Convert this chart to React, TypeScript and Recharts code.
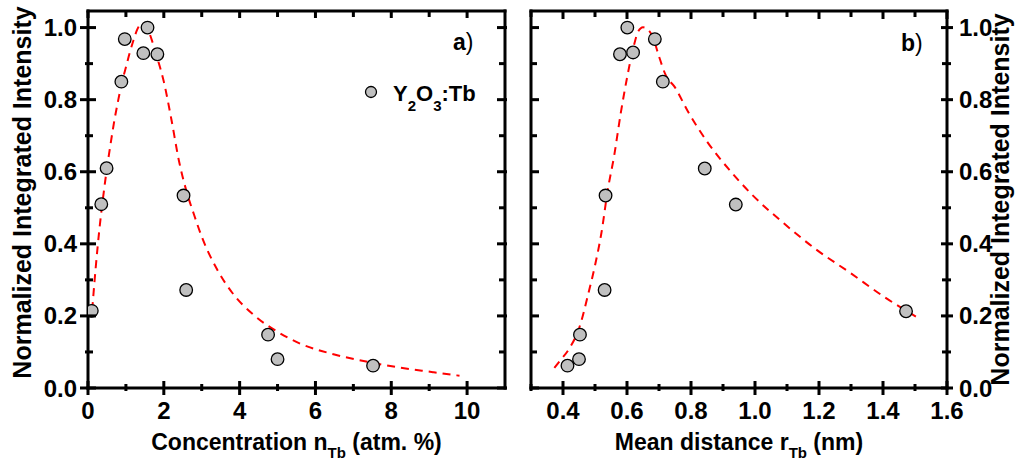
import React from 'react';
import { ComposedChart, XAxis, YAxis, Scatter, Line, Customized } from 'recharts';

// ---------- Panel a: intensity vs concentration ----------
const concentration = [0.1, 0.35, 0.49, 0.88, 0.97, 1.46, 1.57, 1.83, 2.52, 2.59, 4.75, 5.0, 7.52];
const intensityA = [0.214, 0.51, 0.61, 0.85, 0.968, 0.929, 1.0, 0.926, 0.534, 0.272, 0.148, 0.08, 0.062];

const fitConcentration = [0.11, 0.2, 0.3, 0.4, 0.5, 0.6, 0.7, 0.8, 0.9, 1.0, 1.1, 1.2, 1.3, 1.42, 1.5, 1.6, 1.7, 1.8, 1.9, 2.0, 2.2, 2.4, 2.6, 2.8, 3.0, 3.4, 3.8, 4.4, 5.0, 5.6, 6.5, 7.4, 8.2, 9.1, 9.8];
const fitIntensityA = [0.216, 0.33, 0.44, 0.53, 0.61, 0.68, 0.745, 0.8, 0.85, 0.89, 0.93, 0.965, 0.995, 1.012, 1.008, 0.99, 0.96, 0.925, 0.89, 0.85, 0.745, 0.63, 0.545, 0.48, 0.42, 0.33, 0.265, 0.2, 0.156, 0.123, 0.093, 0.072, 0.057, 0.044, 0.034];

// ---------- Panel b: intensity vs mean distance ----------
const distance = [0.601, 0.578, 0.619, 0.687, 0.712, 0.843, 0.94, 0.533, 0.53, 0.453, 0.45, 0.414, 1.472];
const intensityB = [1.0, 0.926, 0.931, 0.968, 0.85, 0.609, 0.509, 0.534, 0.272, 0.148, 0.08, 0.062, 0.213];

const fitDistance = [0.373, 0.39, 0.42, 0.45, 0.48, 0.5, 0.52, 0.54, 0.56, 0.58, 0.6, 0.62, 0.635, 0.65, 0.665, 0.68, 0.7, 0.72, 0.75, 0.79, 0.85, 0.92, 0.99, 1.09, 1.19, 1.3, 1.4, 1.505];
const fitIntensityB = [0.056, 0.075, 0.11, 0.165, 0.265, 0.34, 0.43, 0.55, 0.645, 0.76, 0.86, 0.945, 0.989, 1.001, 0.995, 0.975, 0.92, 0.87, 0.834, 0.768, 0.684, 0.605, 0.537, 0.457, 0.385, 0.318, 0.255, 0.197];

// ---------- ticks ----------
const xMajorA = [0, 2, 4, 6, 8, 10];
const xMinorA = [1, 3, 5, 7, 9];
const xMajorB = [0.4, 0.6, 0.8, 1.0, 1.2, 1.4, 1.6];
const xMinorB = [0.3, 0.5, 0.7, 0.9, 1.1, 1.3, 1.5];
const yMajor = [0, 0.2, 0.4, 0.6, 0.8, 1.0];
const yMinor = [0.1, 0.3, 0.5, 0.7, 0.9];

const legendLabel = ['Y', '2', 'O', '3', ':Tb'];
const yTitle = 'Normalized Integrated Intensity';

const FONT = "'Liberation Sans', Arial, sans-serif";
const TICK_FS = 24;
const TW = 3;

const pointsA = concentration.map((x, i) => ({ x, y: intensityA[i] }));
const fitA = fitConcentration.map((x, i) => ({ x, y: fitIntensityA[i] }));
const pointsB = distance.map((x, i) => ({ x, y: intensityB[i] }));
const fitB = fitDistance.map((x, i) => ({ x, y: fitIntensityB[i] }));

const allTicks = (a: number[], b: number[]) => [...a, ...b].sort((p, q) => p - q);
const isMajor = (v: number, majors: number[]) => majors.some((m) => Math.abs(m - v) < 1e-6);

// side: 0 bottom, 1 top, 2 left, 3 right
const mkTick = (side: number, majors: number[], inMaj: number, outMaj: number, inMin: number, outMin: number, labels: boolean, fmt: (v: number) => string) =>
  (props: any) => {
    const x = Number(props.x);
    const y = Number(props.y);
    const v = Number(props.payload.value);
    const maj = isMajor(v, majors);
    const a = maj ? inMaj : inMin;
    const b = maj ? outMaj : outMin;
    const len = a + b;
    let rx = x - TW / 2;
    let ry = y - TW / 2;
    let rw = TW;
    let rh = TW;
    let tx = x;
    let ty = y;
    let anchor: 'middle' | 'end' | 'start' = 'middle';
    if (side === 0) {
      ry = y - a; rh = len; ty = y + 31;
    } else if (side === 1) {
      ry = y - b; rh = len;
    } else if (side === 2) {
      rx = x - b; rw = len; tx = x - 11; ty = y + 8.5; anchor = 'end';
    } else {
      rx = x - a; rw = len; tx = x + 12; ty = y + 8.5; anchor = 'start';
    }
    return (
      <g>
        <rect x={rx} y={ry} width={rw} height={rh} fill="#000" />
        {maj && labels ? (
          <text x={tx} y={ty} textAnchor={anchor} fontSize={TICK_FS} fontWeight="bold" fontFamily={FONT} fill="#000">
            {fmt(v)}
          </text>
        ) : null}
      </g>
    );
  };

const axisLine = { stroke: '#000', strokeWidth: 3, strokeLinecap: 'square' as const };

const Dot = (props: any) => (
  <circle cx={props.cx} cy={props.cy} r={6.3} fill="#c0c0c0" stroke="#000" strokeWidth={1.3} />
);

const XTitle = (main: string, sub: string, tail: string) => (props: any) => {
  const vb = props.viewBox;
  return (
    <text x={vb.x + vb.width / 2} y={vb.y + 62} textAnchor="middle" fontSize={23} fontWeight="bold" fontFamily={FONT} fill="#000">
      <tspan>{main}</tspan>
      <tspan fontSize={15} dy={8}>{sub}</tspan>
      <tspan dy={-8}>{tail}</tspan>
    </text>
  );
};

const YTitle = (xOff: (vb: any) => number, yShift: number) => (props: any) => {
  const vb = props.viewBox;
  const cx = xOff(vb);
  const cy = vb.y + vb.height / 2 + yShift;
  return (
    <text x={cx} y={cy} transform={`rotate(-90, ${cx}, ${cy})`} textAnchor="middle" fontSize={25} fontWeight="bold" fontFamily={FONT} fill="#000">
      {yTitle}
    </text>
  );
};

const PanelTag = (tag: string, x: number, y: number) => () => (
  <text x={x} y={y} fontSize={23} fontFamily={FONT} fill="#000">
    <tspan fontWeight="bold">{tag}</tspan>
    <tspan>)</tspan>
  </text>
);

const LegendA = () => (
  <g>
    <circle cx={371} cy={92} r={5.5} fill="#c0c0c0" stroke="#000" strokeWidth={1.3} />
    <text x={393} y={101} fontSize={22} fontWeight="bold" fontFamily={FONT} fill="#000">
      <tspan>{legendLabel[0]}</tspan>
      <tspan fontSize={15} dy={10}>{legendLabel[1]}</tspan>
      <tspan dy={-10}>{legendLabel[2]}</tspan>
      <tspan fontSize={15} dy={10}>{legendLabel[3]}</tspan>
      <tspan dy={-10}>{legendLabel[4]}</tspan>
    </text>
  </g>
);

const fmt1 = (v: number) => v.toFixed(1);
const fmt0 = (v: number) => String(Math.round(v));

const Y_DOMAIN: [number, number] = [0, 1.046];

const common = { type: 'number' as const, interval: 0, allowDataOverflow: true, tickSize: 0, tickMargin: 0, tickLine: false, axisLine };

export default function App() {
  return (
    <div style={{ position: 'absolute', left: 0, top: 0, width: 1019, height: 461, background: '#fff', overflow: 'hidden' }}>
      <div style={{ position: 'absolute', left: 0, top: 0 }}>
        <ComposedChart width={510} height={461} margin={{ top: 10, right: 4, bottom: 23, left: 0 }}>
          <XAxis {...common} xAxisId="main" dataKey="x" domain={[0, 11]} ticks={allTicks(xMajorA, xMinorA)} height={50}
            tick={mkTick(0, xMajorA, 7, 7, 4, 3, true, fmt0)}
            label={{ content: XTitle('Concentration n', 'Tb', ' (atm. %)') }} />
          <XAxis {...common} xAxisId="aux" orientation="top" dataKey="x" domain={[0, 11]} ticks={allTicks(xMajorA, xMinorA)} height={1}
            tick={mkTick(1, xMajorA, 7, 0, 6, 0, false, fmt0)} />
          <YAxis {...common} yAxisId="main" dataKey="y" domain={Y_DOMAIN} ticks={allTicks(yMajor, yMinor)} width={88}
            tick={mkTick(2, yMajor, 8, 8, 5, 3, true, fmt1)}
            label={{ content: YTitle((vb) => vb.x + 31, -7) }} />
          <YAxis {...common} yAxisId="aux" orientation="right" domain={Y_DOMAIN} ticks={allTicks(yMajor, yMinor)} width={1}
            tick={mkTick(3, yMajor, 8, 2, 6, 0, false, fmt1)} />
          <Scatter xAxisId="main" yAxisId="main" data={pointsA} dataKey="y" shape={Dot} isAnimationActive={false} />
          <Line xAxisId="main" yAxisId="main" data={fitA} dataKey="y" type="monotone" dot={false} activeDot={false}
            stroke="#ff0000" strokeWidth={2} strokeDasharray="8 6" isAnimationActive={false} />
          <Customized component={PanelTag('a', 453, 50)} />
          <Customized component={LegendA} />
        </ComposedChart>
      </div>
      <div style={{ position: 'absolute', left: 510, top: 0 }}>
        <ComposedChart width={509} height={461} margin={{ top: 10, right: 0, bottom: 23, left: 20 }}>
          <XAxis {...common} xAxisId="main" dataKey="x" domain={[0.3, 1.6]} ticks={allTicks(xMajorB, xMinorB)} height={50}
            tick={mkTick(0, xMajorB, 7, 7, 4, 3, true, fmt1)}
            label={{ content: XTitle('Mean distance r', 'Tb', ' (nm)') }} />
          <XAxis {...common} xAxisId="aux" orientation="top" dataKey="x" domain={[0.3, 1.6]} ticks={allTicks(xMajorB, xMinorB)} height={1}
            tick={mkTick(1, xMajorB, 8, 0, 6, 0, false, fmt1)} />
          <YAxis {...common} yAxisId="main" orientation="right" dataKey="y" domain={Y_DOMAIN} ticks={allTicks(yMajor, yMinor)} width={72}
            tick={mkTick(3, yMajor, 6, 6, 5, 4, true, fmt1)}
            label={{ content: YTitle((vb) => vb.x + 62, 0) }} />
          <YAxis {...common} yAxisId="aux" orientation="left" domain={Y_DOMAIN} ticks={allTicks(yMajor, yMinor)} width={1}
            tick={mkTick(2, yMajor, 8, 0, 6, 0, false, fmt1)} />
          <Scatter xAxisId="main" yAxisId="main" data={pointsB} dataKey="y" shape={Dot} isAnimationActive={false} />
          <Line xAxisId="main" yAxisId="main" data={fitB} dataKey="y" type="monotone" dot={false} activeDot={false}
            stroke="#ff0000" strokeWidth={2} strokeDasharray="8 6" isAnimationActive={false} />
          <Customized component={PanelTag('b', 391, 51)} />
        </ComposedChart>
      </div>
    </div>
  );
}
